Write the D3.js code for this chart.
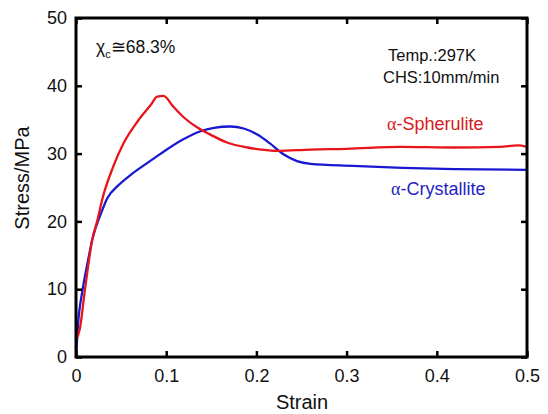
<!DOCTYPE html>
<html><head><meta charset="utf-8">
<script src="https://cdn.jsdelivr.net/npm/d3@7"></script>
<style>body{margin:0;background:#fff}svg text{font-family:"Liberation Sans",Arial,sans-serif}</style>
</head><body><svg id="c" width="548" height="414"></svg>
<script>
const xTicks=[0,0.1,0.2,0.3,0.4,0.5];
const yTicks=[0,10,20,30,40,50];
const spheruliteStrain=[0,0.004,0.01,0.018,0.024,0.029,0.041,0.053,0.068,0.083,0.09,0.097,0.108,0.119,0.135,0.149,0.168,0.19,0.205,0.223,0.26,0.3,0.36,0.42,0.47,0.49,0.5];
const spheruliteStress=[2.5,4,10,17.3,20.3,23.2,28,31.6,34.7,37.2,38.4,38.5,36.9,35.4,33.8,32.8,31.6,30.9,30.6,30.4,30.6,30.7,31.0,30.9,31.0,31.2,31.0];
const crystalliteStrain=[0,0.002,0.0074,0.013,0.018,0.028,0.035,0.046,0.061,0.08,0.094,0.119,0.138,0.153,0.171,0.186,0.201,0.215,0.23,0.245,0.26,0.307,0.362,0.42,0.5];
const crystalliteStress=[0,4.4,10,14,17.3,21.3,23.5,25.2,26.9,28.7,30.0,32.1,33.3,33.8,34.0,33.7,32.8,31.5,29.9,28.9,28.5,28.2,27.9,27.7,27.6];

const svg=d3.select("#c");
const L=76,R=527,T=18,B=357;
const x=d3.scaleLinear().domain([0,0.5]).range([L,R]);
const y=d3.scaleLinear().domain([0,50]).range([B,T]);
const line=d3.line().curve(d3.curveMonotoneX).x(d=>x(d[0])).y(d=>y(d[1]));

const red="#e8141c", blue="#1818d0";
svg.append("path").datum(d3.zip(crystalliteStrain,crystalliteStress)).attr("d",line)
  .attr("fill","none").attr("stroke",blue).attr("stroke-width",2.3);
svg.append("path").datum(d3.zip(spheruliteStrain,spheruliteStress)).attr("d",line)
  .attr("fill","none").attr("stroke",red).attr("stroke-width",2.3);

const fmt=d=>d===0?"0":String(d);
const tk=6;
const gb=svg.append("g").attr("transform",`translate(0,${B})`).call(d3.axisBottom(x).tickValues(xTicks).tickFormat(fmt).tickSizeInner(-tk).tickSizeOuter(0).tickPadding(12));
const gt=svg.append("g").attr("transform",`translate(0,${T})`).call(d3.axisTop(x).tickValues(xTicks).tickFormat("").tickSizeInner(-tk).tickSizeOuter(0));
const gl=svg.append("g").attr("transform",`translate(${L},0)`).call(d3.axisLeft(y).tickValues(yTicks).tickFormat(fmt).tickSizeInner(-tk).tickSizeOuter(0).tickPadding(9));
const gr=svg.append("g").attr("transform",`translate(${R},0)`).call(d3.axisRight(y).tickValues(yTicks).tickFormat("").tickSizeInner(-tk).tickSizeOuter(0));
[gb,gt,gl,gr].forEach(g=>{g.select(".domain").remove();g.selectAll("line").attr("stroke","#000").attr("stroke-width",2.5);g.selectAll("text").attr("font-size",18).attr("fill","#111").attr("font-family","Liberation Sans, Arial, sans-serif");});
svg.append("rect").attr("x",L).attr("y",T).attr("width",R-L).attr("height",B-T).attr("fill","none").attr("stroke","#000").attr("stroke-width",3);

svg.append("text").attr("x",302).attr("y",409).attr("text-anchor","middle").attr("font-size",20).attr("fill","#111").text("Strain");
svg.append("text").attr("transform",`translate(29,178) rotate(-90)`).attr("text-anchor","middle").attr("font-size",20).attr("fill","#111").text("Stress/MPa");

const t1=svg.append("text").attr("x",96).attr("y",53).attr("font-size",17.5).attr("fill","#111");
t1.append("tspan").text("χ");
t1.append("tspan").attr("font-size",11).attr("dy",5).text("c");
t1.append("tspan").attr("dy",-5).text("≅68.3%");
svg.append("text").attr("x",388).attr("y",61).attr("font-size",16.5).attr("fill","#111").text("Temp.:297K");
svg.append("text").attr("x",383).attr("y",83).attr("font-size",16.5).attr("fill","#111").text("CHS:10mm/min");
const s1=svg.append("text").attr("x",387).attr("y",130).attr("font-size",18).attr("fill","#d81a20");
s1.append("tspan").attr("font-family","Liberation Serif, serif").text("α");
s1.append("tspan").text("-Spherulite");
const s2=svg.append("text").attr("x",391).attr("y",195).attr("font-size",18).attr("fill","#2424c4");
s2.append("tspan").attr("font-family","Liberation Serif, serif").text("α");
s2.append("tspan").text("-Crystallite");
</script></body></html>
